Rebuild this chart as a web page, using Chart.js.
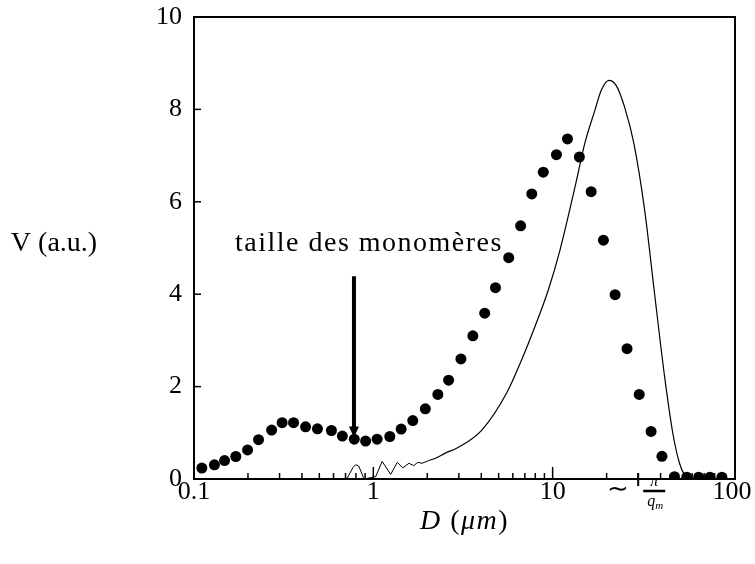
<!DOCTYPE html>
<html>
<head>
<meta charset="utf-8">
<script src="https://cdn.jsdelivr.net/npm/chart.js@4.4.0/dist/chart.umd.min.js"></script>
<style>
  html, body { margin: 0; padding: 0; background: #fff; }
</style>
</head>
<body>
<canvas id="sizeChart" width="755" height="564"></canvas>
<script>
// measured points (dots)
const sizeD = [0.1106, 0.130, 0.148, 0.171, 0.199, 0.229, 0.271, 0.310, 0.359, 0.419,
    0.488, 0.584, 0.672, 0.783, 0.906, 1.05, 1.236, 1.43, 1.66, 1.95,
    2.29, 2.63, 3.08, 3.59, 4.18, 4.80, 5.69, 6.63, 7.65, 8.87,
    10.5, 12.1, 14.1, 16.4, 19.2, 22.3, 26.0, 30.4, 35.4, 40.7,
    47.8, 56, 65.2, 75.4, 87.9];
const volume = [0.236, 0.307, 0.40, 0.487, 0.63, 0.85, 1.06, 1.22, 1.22, 1.13,
    1.085, 1.05, 0.93, 0.863, 0.82, 0.863, 0.92, 1.08, 1.265, 1.52,
    1.83, 2.14, 2.6, 3.10, 3.59, 4.14, 4.79, 5.48, 6.17, 6.64,
    7.02, 7.36, 6.97, 6.22, 5.17, 3.99, 2.82, 1.83, 1.03, 0.49,
    0.05, 0.04, 0.04, 0.04, 0.04];

// thin line: noisy start, then smooth peak
const noiseD = [0.65, 0.716, 0.77, 0.797, 0.83, 0.887, 1.03, 1.12, 1.25, 1.36, 1.46, 1.58, 1.68, 1.77, 1.87, 2.04];
const noiseV = [0, 0.02, 0.25, 0.31, 0.28, 0, 0.05, 0.38, 0.1, 0.36, 0.24, 0.34, 0.29, 0.36, 0.34, 0.40];
const smoothD = [2.04, 2.22, 2.52, 2.93, 4.03, 5.54, 6.72, 7.97, 9.46, 11.0, 13.6, 15.1, 17.2, 18.7, 20.6,
    22.6, 25.2, 28.4, 32.6, 37.0, 42.1, 46.8, 51.0, 54.3, 57.9, 100];
const smoothV = [0.40, 0.45, 0.56, 0.67, 1.06, 1.86, 2.58, 3.30, 4.09, 4.96, 6.47, 7.26, 7.98, 8.42, 8.63,
    8.52, 8.05, 7.26, 5.82, 4.02, 2.22, 0.99, 0.34, 0.09, 0, 0];

const xTicks = [0.1, 1, 10, 100];
const xTickLabels = ["0.1", "1", "10", "100"];
const yTicks = [0, 2, 4, 6, 8, 10];
const qmD = 30;            // position of the ~ pi/q_m mark
const arrowD = 0.78;       // "taille des monomeres" arrow
const arrowTopV = 4.39;
const arrowTipV = 0.9;
const noteV = 5.1;

const FONT = '"Liberation Serif", "Times New Roman", serif';

function toXY(xs, ys) {
    return xs.map((v, i) => ({ x: v, y: ys[i] }));
}

const decor = {
    id: "decor",
    beforeDatasetsDraw(chart) {
        const { ctx, chartArea: a, scales } = chart;
        const x = scales.x, y = scales.y;
        ctx.save();
        ctx.strokeStyle = "#000";
        ctx.lineWidth = 2;
        ctx.strokeRect(a.left, a.top, a.right - a.left, a.bottom - a.top);

        // inward ticks on the bottom axis
        ctx.lineWidth = 1.5;
        [0.1, 1, 10].forEach(dec => {
            for (let k = 1; k < 10; k++) {
                const px = x.getPixelForValue(dec * k);
                const len = k === 1 ? 12 : 6;
                ctx.beginPath();
                ctx.moveTo(px, a.bottom);
                ctx.lineTo(px, a.bottom - len);
                ctx.stroke();
            }
        });
        // pi/q_m mark crosses the axis
        const qx = x.getPixelForValue(qmD);
        ctx.lineWidth = 2;
        ctx.beginPath();
        ctx.moveTo(qx, a.bottom - 6);
        ctx.lineTo(qx, a.bottom + 7);
        ctx.stroke();

        // left axis ticks
        ctx.lineWidth = 1.5;
        yTicks.forEach(v => {
            const py = y.getPixelForValue(v);
            ctx.beginPath();
            ctx.moveTo(a.left, py);
            ctx.lineTo(a.left + 7, py);
            ctx.stroke();
        });
        ctx.restore();
    },
    afterDatasetsDraw(chart) {
        const { ctx, chartArea: a, scales } = chart;
        const x = scales.x, y = scales.y;
        ctx.save();
        ctx.fillStyle = "#000";
        ctx.strokeStyle = "#000";

        // arrow
        const ax = x.getPixelForValue(arrowD);
        const ay0 = y.getPixelForValue(arrowTopV);
        const ay1 = y.getPixelForValue(arrowTipV);
        ctx.lineWidth = 4;
        ctx.beginPath();
        ctx.moveTo(ax, ay0);
        ctx.lineTo(ax, ay1 - 8);
        ctx.stroke();
        ctx.beginPath();
        ctx.moveTo(ax - 5, ay1 - 11);
        ctx.lineTo(ax + 5, ay1 - 11);
        ctx.lineTo(ax, ay1);
        ctx.closePath();
        ctx.fill();

        // annotation
        ctx.font = "28px " + FONT;
        ctx.letterSpacing = "1.5px";
        ctx.textAlign = "center";
        ctx.textBaseline = "middle";
        ctx.fillText("taille des monomères", ax + 15, y.getPixelForValue(noteV));
        ctx.letterSpacing = "0px";

        // pi / q_m label under the axis
        const qx = x.getPixelForValue(qmD);
        const ty = a.bottom + 11;
        ctx.font = "26px " + FONT;
        ctx.textBaseline = "middle";
        ctx.fillText("∼", qx - 20, ty);
        const fx = qx + 16;
        ctx.font = "italic 16px " + FONT;
        ctx.fillText("π", fx, ty - 8);
        ctx.lineWidth = 2.5;
        ctx.beginPath();
        ctx.moveTo(fx - 11, ty + 1);
        ctx.lineTo(fx + 11, ty + 1);
        ctx.stroke();
        ctx.textAlign = "right";
        ctx.fillText("q", fx + 1, ty + 12);
        ctx.textAlign = "left";
        ctx.font = "italic 11px " + FONT;
        ctx.fillText("m", fx + 1, ty + 16);

        // axis titles
        ctx.textAlign = "left";
        ctx.textBaseline = "middle";
        ctx.letterSpacing = "1.5px";
        const midX = (a.left + a.right) / 2;
        const titleY = a.bottom + 43;
        const parts = [["italic 28px ", "D"], ["28px ", " ("], ["italic 28px ", "μm"], ["28px ", ")"]];
        let total = 0;
        parts.forEach(p => { ctx.font = p[0] + FONT; total += ctx.measureText(p[1]).width; });
        let cx = midX - total / 2;
        parts.forEach(p => {
            ctx.font = p[0] + FONT;
            ctx.fillText(p[1], cx, titleY);
            cx += ctx.measureText(p[1]).width;
        });
        ctx.letterSpacing = "0px";

        ctx.font = "28px " + FONT;
        ctx.textAlign = "center";
        ctx.fillText("V (a.u.)", 54, y.getPixelForValue(noteV));
        ctx.restore();
    }
};

const chart = new Chart(document.getElementById("sizeChart").getContext("2d"), {
    type: "scatter",
    data: {
        datasets: [
            {
                label: "mesure",
                data: toXY(sizeD, volume),
                showLine: false,
                pointRadius: 5.5,
                pointBackgroundColor: "#000",
                pointBorderWidth: 0
            },
            {
                label: "bruit",
                data: toXY(noiseD, noiseV),
                showLine: true,
                borderColor: "#000",
                borderWidth: 1,
                pointRadius: 0,
                tension: 0
            },
            {
                label: "courbe",
                data: toXY(smoothD, smoothV),
                showLine: true,
                borderColor: "#000",
                borderWidth: 1.2,
                pointRadius: 0,
                cubicInterpolationMode: "monotone"
            }
        ]
    },
    options: {
        responsive: false,
        devicePixelRatio: 1,
        animation: false,
        layout: { padding: { top: 17, right: 20, left: 0, bottom: 0 } },
        plugins: {
            legend: { display: false },
            tooltip: { enabled: false }
        },
        scales: {
            x: {
                type: "logarithmic",
                min: 0.1,
                max: 104,
                afterBuildTicks: s => { s.ticks = xTicks.map(v => ({ value: v })); },
                afterFit: s => { s.height = 85; s.paddingLeft = 0; s.paddingRight = 0; },
                grid: { display: false, drawTicks: false },
                border: { display: false },
                ticks: {
                    color: "#000",
                    padding: -2,
                    maxRotation: 0,
                    autoSkip: false,
                    font: { family: FONT, size: 26 },
                    callback: v => xTickLabels[xTicks.indexOf(v)] ?? ""
                }
            },
            y: {
                min: 0,
                max: 10,
                afterBuildTicks: s => { s.ticks = yTicks.map(v => ({ value: v })); },
                afterFit: s => { s.width = 194; s.paddingTop = 0; s.paddingBottom = 0; },
                grid: { display: false, drawTicks: false },
                border: { display: false },
                ticks: {
                    color: "#000",
                    padding: 12,
                    font: { family: FONT, size: 26 }
                }
            }
        }
    },
    plugins: [decor]
});
</script>
</body>
</html>
